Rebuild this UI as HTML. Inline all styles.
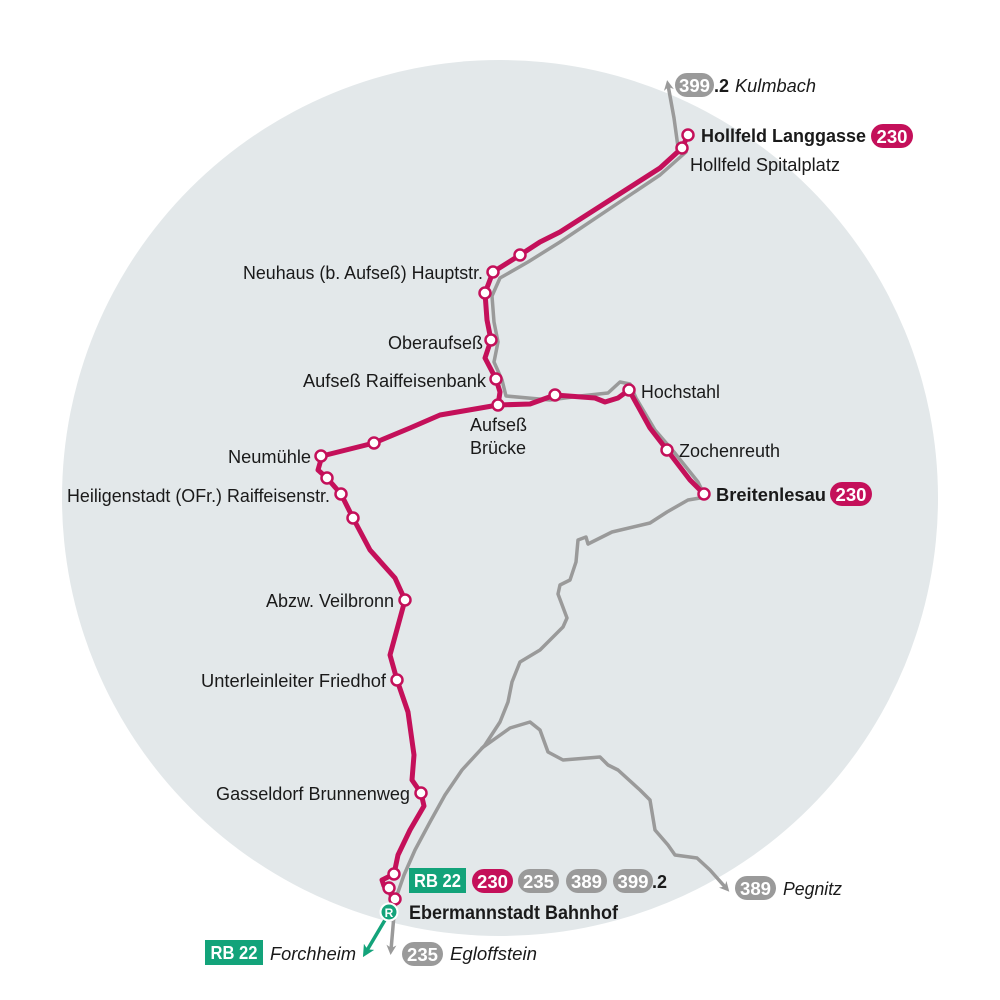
<!DOCTYPE html>
<html><head><meta charset="utf-8"><style>
html,body{margin:0;padding:0;background:#fff}
svg{display:block}
text{font-family:"Liberation Sans Narrow","Liberation Sans",sans-serif;fill:#1a1a1a}
.b{font-weight:bold}
.i{font-style:italic}
.bw{fill:#fff;font-weight:bold}
</style></head><body>
<svg width="1000" height="1000" viewBox="0 0 1000 1000" xmlns="http://www.w3.org/2000/svg">
<defs>
<marker id="ag" markerWidth="10" markerHeight="10" refX="5" refY="5" orient="auto" markerUnits="userSpaceOnUse"><path d="M0,0 L10,5 L0,10 L3,5 z" fill="#9a9a9a"/></marker>
<marker id="agr" markerWidth="12" markerHeight="12" refX="6" refY="6" orient="auto" markerUnits="userSpaceOnUse"><path d="M0,0 L12,6 L0,12 L3,6 z" fill="#13a37a"/></marker>
</defs>
<circle cx="500" cy="498" r="438" fill="#e3e8ea"/>
<g fill="none" stroke="#9a9a9a" stroke-width="3.5" stroke-linejoin="round" stroke-linecap="round">
<path d="M678,147 L674,118 L668,85" marker-end="url(#ag)"/>
<path d="M686,152 L660,175 L560,242 L528,262 L500,278 L492,296 L494,322 L498,342 L494,362 L502,380 L506,396 L550,400 L580,396 L608,393 L620,382 L630,384 L636,398 L655,430 L674,452 L698,482 L704,494"/>
<path d="M700,498 L688,500 L667,512 L650,523 L612,532 L588,544 L586,537 L578,540 L576,562 L570,580 L560,585 L558,594 L567,618 L563,627 L540,650 L520,662 L512,682 L508,702 L500,722 L485,745 L462,770 L445,795 L430,822 L415,850 L404,875 L397,895 L394,915 L391,950" marker-end="url(#ag)"/>
<path d="M482,748 L510,728 L530,722 L540,730 L548,752 L563,760 L600,757 L608,765 L618,770 L640,790 L650,800 L655,830 L668,845 L675,855 L697,858 L710,870 L726,888" marker-end="url(#ag)"/>
</g>
<g fill="none" stroke="#c4105a" stroke-width="5" stroke-linejoin="round" stroke-linecap="round">
<path d="M688,135 L682,148 L660,168 L560,232 L540,242 L520,255 L493,272 L485,293 L487,320 L491,340 L485,358 L496,379 L500,392 L498,405"/>
<path d="M498,405 L440,415 L410,428 L374,443 L322,456 L318,470 L327,478 L341,494 L353,518 L370,550 L395,578 L405,600 L390,655 L397,680 L408,712 L414,755 L412,780 L421,793 L424,806 L410,830 L398,855 L394,874 L382,880 L384,886 L389,888 L391,895 L395,899"/>
<path d="M498,405 L530,404 L555,395 L595,398 L605,402 L618,398 L629,390 L650,428 L667,450 L690,480 L704,494"/>
</g>
<g fill="#fff" stroke="#c4105a" stroke-width="2.5">
<circle cx="688" cy="135" r="5.5"/><circle cx="682" cy="148" r="5.5"/><circle cx="520" cy="255" r="5.5"/>
<circle cx="493" cy="272" r="5.5"/><circle cx="485" cy="293" r="5.5"/><circle cx="491" cy="340" r="5.5"/>
<circle cx="496" cy="379" r="5.5"/><circle cx="498" cy="405" r="5.5"/><circle cx="374" cy="443" r="5.5"/>
<circle cx="321" cy="456" r="5.5"/><circle cx="327" cy="478" r="5.5"/><circle cx="341" cy="494" r="5.5"/>
<circle cx="353" cy="518" r="5.5"/><circle cx="405" cy="600" r="5.5"/><circle cx="397" cy="680" r="5.5"/>
<circle cx="421" cy="793" r="5.5"/><circle cx="394" cy="874" r="5.5"/><circle cx="389" cy="888" r="5.5"/>
<circle cx="395" cy="899" r="5.5"/><circle cx="555" cy="395" r="5.5"/><circle cx="629" cy="390" r="5.5"/>
<circle cx="667" cy="450" r="5.5"/><circle cx="704" cy="494" r="5.5"/>
</g>
<line x1="385" y1="920" x2="366" y2="952" stroke="#13a37a" stroke-width="3.5" marker-end="url(#agr)"/>
<circle cx="389" cy="912" r="8.5" fill="#13a37a" stroke="#fff" stroke-width="2"/>
<text x="389" y="917" text-anchor="middle" font-size="12" class="bw">R</text>

<g font-size="18">
<text x="701" y="142" class="b" textLength="165" lengthAdjust="spacingAndGlyphs">Hollfeld Langgasse</text>
<text x="690" y="171" textLength="150" lengthAdjust="spacingAndGlyphs">Hollfeld Spitalplatz</text>
<text x="243" y="279" textLength="240" lengthAdjust="spacingAndGlyphs">Neuhaus (b. Aufseß) Hauptstr.</text>
<text x="388" y="349" textLength="95" lengthAdjust="spacingAndGlyphs">Oberaufseß</text>
<text x="303" y="387" textLength="183" lengthAdjust="spacingAndGlyphs">Aufseß Raiffeisenbank</text>
<text x="470" y="431">Aufseß</text>
<text x="470" y="454">Brücke</text>
<text x="228" y="463" textLength="83" lengthAdjust="spacingAndGlyphs">Neumühle</text>
<text x="67" y="502" textLength="263" lengthAdjust="spacingAndGlyphs">Heiligenstadt (OFr.) Raiffeisenstr.</text>
<text x="266" y="607" textLength="128" lengthAdjust="spacingAndGlyphs">Abzw. Veilbronn</text>
<text x="201" y="687" textLength="185" lengthAdjust="spacingAndGlyphs">Unterleinleiter Friedhof</text>
<text x="216" y="800" textLength="194" lengthAdjust="spacingAndGlyphs">Gasseldorf Brunnenweg</text>
<text x="641" y="398" textLength="79" lengthAdjust="spacingAndGlyphs">Hochstahl</text>
<text x="679" y="457" textLength="101" lengthAdjust="spacingAndGlyphs">Zochenreuth</text>
<text x="716" y="501" class="b" textLength="110" lengthAdjust="spacingAndGlyphs">Breitenlesau</text>
<text x="409" y="919" class="b" font-size="19" textLength="209" lengthAdjust="spacingAndGlyphs">Ebermannstadt Bahnhof</text>
<text x="735" y="92" class="i" textLength="81" lengthAdjust="spacingAndGlyphs">Kulmbach</text>
<text x="783" y="895" class="i" textLength="59" lengthAdjust="spacingAndGlyphs">Pegnitz</text>
<text x="270" y="960" class="i" textLength="86" lengthAdjust="spacingAndGlyphs">Forchheim</text>
<text x="450" y="960" class="i" textLength="87" lengthAdjust="spacingAndGlyphs">Egloffstein</text>
</g>

<g font-size="18">
<rect x="675" y="73" width="39" height="24" rx="12" fill="#9a9a9a"/><text x="694.5" y="92" text-anchor="middle" class="bw" textLength="31" lengthAdjust="spacingAndGlyphs">399</text><text x="714" y="92" class="b">.2</text>
<rect x="871" y="124" width="42" height="24" rx="12" fill="#c4105a"/><text x="892" y="143" text-anchor="middle" class="bw" textLength="31" lengthAdjust="spacingAndGlyphs">230</text>
<rect x="830" y="482" width="42" height="24" rx="12" fill="#c4105a"/><text x="851" y="501" text-anchor="middle" class="bw" textLength="31" lengthAdjust="spacingAndGlyphs">230</text>
<rect x="409" y="868" width="57" height="25" fill="#13a37a"/><text x="437.5" y="887" text-anchor="middle" class="bw" textLength="47" lengthAdjust="spacingAndGlyphs">RB 22</text>
<rect x="472" y="869" width="41" height="24" rx="12" fill="#c4105a"/><text x="492.5" y="888" text-anchor="middle" class="bw" textLength="31" lengthAdjust="spacingAndGlyphs">230</text>
<rect x="518" y="869" width="41" height="24" rx="12" fill="#9a9a9a"/><text x="538.5" y="888" text-anchor="middle" class="bw" textLength="31" lengthAdjust="spacingAndGlyphs">235</text>
<rect x="566" y="869" width="41" height="24" rx="12" fill="#9a9a9a"/><text x="586.5" y="888" text-anchor="middle" class="bw" textLength="31" lengthAdjust="spacingAndGlyphs">389</text>
<rect x="613" y="869" width="40" height="24" rx="12" fill="#9a9a9a"/><text x="633" y="888" text-anchor="middle" class="bw" textLength="31" lengthAdjust="spacingAndGlyphs">399</text><text x="652" y="888" class="b">.2</text>
<rect x="735" y="876" width="41" height="24" rx="12" fill="#9a9a9a"/><text x="755.5" y="895" text-anchor="middle" class="bw" textLength="31" lengthAdjust="spacingAndGlyphs">389</text>
<rect x="205" y="940" width="58" height="25" fill="#13a37a"/><text x="234" y="959" text-anchor="middle" class="bw" textLength="47" lengthAdjust="spacingAndGlyphs">RB 22</text>
<rect x="402" y="942" width="41" height="24" rx="12" fill="#9a9a9a"/><text x="422.5" y="961" text-anchor="middle" class="bw" textLength="31" lengthAdjust="spacingAndGlyphs">235</text>
</g>
</svg>
</body></html>
